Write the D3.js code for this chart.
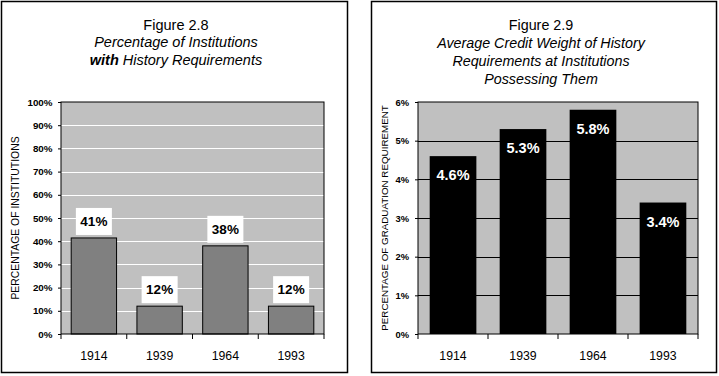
<!DOCTYPE html>
<html><head><meta charset="utf-8">
<script src="https://cdn.jsdelivr.net/npm/d3@7/dist/d3.min.js"></script>
<style>body{margin:0;background:#fff}svg{display:block;font-family:Arial,"Liberation Sans",sans-serif}</style>
</head><body><svg id="c" width="719" height="376"></svg>
<script>
const years = ["1914","1939","1964","1993"];
const pctInstitutions = [41.4, 12, 38, 12];
const pctLabels1 = ["41%","12%","38%","12%"];
const creditWeight = [4.6, 5.3, 5.8, 3.4];
const pctLabels2 = ["4.6%","5.3%","5.8%","3.4%"];
const ticks1 = [0,10,20,30,40,50,60,70,80,90,100];
const ticks2 = [0,1,2,3,4,5,6];
const title1 = [["Figure 2.8"],["Percentage of Institutions"],["with"," History Requirements"]];
const title2 = ["Figure 2.9","Average Credit Weight of History","Requirements at Institutions","Possessing Them"];

const svg = d3.select("#c");

// panel borders
svg.append("rect").attr("x",1.5).attr("y",1.5).attr("width",346).attr("height",371)
  .attr("fill","none").attr("stroke","#000").attr("stroke-width",1.5);
svg.append("rect").attr("x",371.5).attr("y",1.5).attr("width",345).attr("height",371)
  .attr("fill","none").attr("stroke","#000").attr("stroke-width",1.5);

// ---- Chart 1 ----
{
  const x0=61, x1=324, y0=102, y1=334;
  const x = d3.scaleBand().domain(years).range([x0,x1]).paddingInner(0.31).paddingOuter(0.155);
  const y = d3.scaleLinear().domain([0,100]).range([y1,y0]);
  const g = svg.append("g");
  g.append("rect").attr("x",x0).attr("y",y0).attr("width",x1-x0).attr("height",y1-y0).attr("fill","#c0c0c0");
  g.selectAll("line.grid").data(ticks1.slice(1,-1)).join("line")
    .attr("x1",x0).attr("x2",x1).attr("y1",d=>Math.round(y(d))+0.5).attr("y2",d=>Math.round(y(d))+0.5)
    .attr("stroke","#fff").attr("stroke-width",1);
  g.selectAll("rect.bar").data(pctInstitutions).join("rect")
    .attr("x",(d,i)=>x(years[i])).attr("y",d=>y(d)).attr("width",x.bandwidth()).attr("height",d=>y1-y(d))
    .attr("fill","#808080").attr("stroke","#000").attr("stroke-width",1);
  g.append("rect").attr("x",x0).attr("y",y0).attr("width",x1-x0).attr("height",y1-y0)
    .attr("fill","none").attr("stroke","#000").attr("stroke-width",1);
  const ya = g.append("g").attr("transform",`translate(${x0},0)`)
    .call(d3.axisLeft(y).tickValues(ticks1).tickFormat(d=>d+"%").tickSize(3).tickPadding(5.5));
  ya.select(".domain").remove();
  ya.selectAll("line").attr("stroke","#000");
  ya.selectAll("text").attr("font-size",9.8).attr("font-weight","bold").attr("fill","#000").attr("font-family","Arial, 'Liberation Sans', sans-serif");
  const xb = d3.scaleLinear().domain([0,4]).range([x0,x1]);
  g.selectAll("line.xt").data([0,1,2,3,4]).join("line")
    .attr("x1",d=>xb(d)).attr("x2",d=>xb(d)).attr("y1",y1).attr("y2",y1+5).attr("stroke","#000");
  g.selectAll("text.xl").data(years).join("text")
    .attr("x",d=>x(d)+x.bandwidth()/2).attr("y",360).attr("text-anchor","middle")
    .attr("font-size",12.3).text(d=>d);
  const lb = g.selectAll("g.lab").data(pctInstitutions).join("g")
    .attr("transform",(d,i)=>`translate(${x(years[i])+x.bandwidth()/2},${y(d)-3})`);
  lb.append("rect").attr("x",-18).attr("y",-27).attr("width",36).attr("height",27).attr("fill","#fff");
  lb.append("text").attr("y",-9).attr("text-anchor","middle").attr("font-size",13.5).attr("font-weight","bold")
    .text((d,i)=>pctLabels1[i]);
  g.append("text").attr("transform",`translate(19,${(y0+y1)/2}) rotate(-90)`).attr("text-anchor","middle")
    .attr("font-size",10.4).text("PERCENTAGE OF INSTITUTIONS");
  const t = g.append("text").attr("text-anchor","middle").attr("font-size",14.5);
  title1.forEach((parts,i)=>{
    const line = t.append("tspan").attr("x",176).attr("y",29.5+i*17.7);
    parts.forEach((p,j)=>{
      const ts = line.append("tspan").text(p);
      if(i>0) ts.attr("font-style","italic");
      if(i===2 && j===0) ts.attr("font-weight","bold");
    });
  });
}

// ---- Chart 2 ----
{
  const x0=418, x1=698, y0=102, y1=334;
  const x = d3.scaleBand().domain(years).range([x0,x1]).paddingInner(0.333).paddingOuter(0.167);
  const y = d3.scaleLinear().domain([0,6]).range([y1,y0]);
  const g = svg.append("g");
  g.append("rect").attr("x",x0).attr("y",y0).attr("width",x1-x0).attr("height",y1-y0).attr("fill","#c0c0c0");
  g.selectAll("line.grid").data(ticks2.slice(1,-1)).join("line")
    .attr("x1",x0).attr("x2",x1).attr("y1",d=>Math.round(y(d))+0.5).attr("y2",d=>Math.round(y(d))+0.5)
    .attr("stroke","#000").attr("stroke-width",1);
  g.append("rect").attr("x",x0).attr("y",y0).attr("width",x1-x0).attr("height",y1-y0)
    .attr("fill","none").attr("stroke","#000").attr("stroke-width",1);
  g.selectAll("rect.bar").data(creditWeight).join("rect")
    .attr("x",(d,i)=>x(years[i])).attr("y",d=>y(d)).attr("width",x.bandwidth()).attr("height",d=>y1-y(d))
    .attr("fill","#000");
  const ya = g.append("g").attr("transform",`translate(${x0},0)`)
    .call(d3.axisLeft(y).tickValues(ticks2).tickFormat(d=>d+"%").tickSize(3).tickPadding(6));
  ya.select(".domain").remove();
  ya.selectAll("line").attr("stroke","#000");
  ya.selectAll("text").attr("font-size",9.4).attr("font-weight","bold").attr("fill","#000").attr("font-family","Arial, 'Liberation Sans', sans-serif");
  const xb = d3.scaleLinear().domain([0,4]).range([x0,x1]);
  g.selectAll("line.xt").data([0,1,2,3,4]).join("line")
    .attr("x1",d=>xb(d)).attr("x2",d=>xb(d)).attr("y1",y1).attr("y2",y1+5).attr("stroke","#000");
  g.selectAll("text.xl").data(years).join("text")
    .attr("x",d=>x(d)+x.bandwidth()/2).attr("y",360).attr("text-anchor","middle")
    .attr("font-size",12.3).text(d=>d);
  g.selectAll("text.lab").data(creditWeight).join("text")
    .attr("x",(d,i)=>x(years[i])+x.bandwidth()/2).attr("y",d=>y(d)+24).attr("text-anchor","middle")
    .attr("font-size",14.5).attr("font-weight","bold").attr("fill","#fff").text((d,i)=>pctLabels2[i]);
  g.append("text").attr("transform",`translate(388,${(y0+y1)/2}) rotate(-90)`).attr("text-anchor","middle")
    .attr("font-size",9.8).text("PERCENTAGE OF GRADUATION REQUIREMENT");
  const t = g.append("text").attr("text-anchor","middle").attr("font-size",14.3);
  title2.forEach((s,i)=>{
    t.append("tspan").attr("x",541).attr("y",29.5+i*18.3).attr("font-style",i>0?"italic":null).text(s);
  });
}
</script></body></html>
